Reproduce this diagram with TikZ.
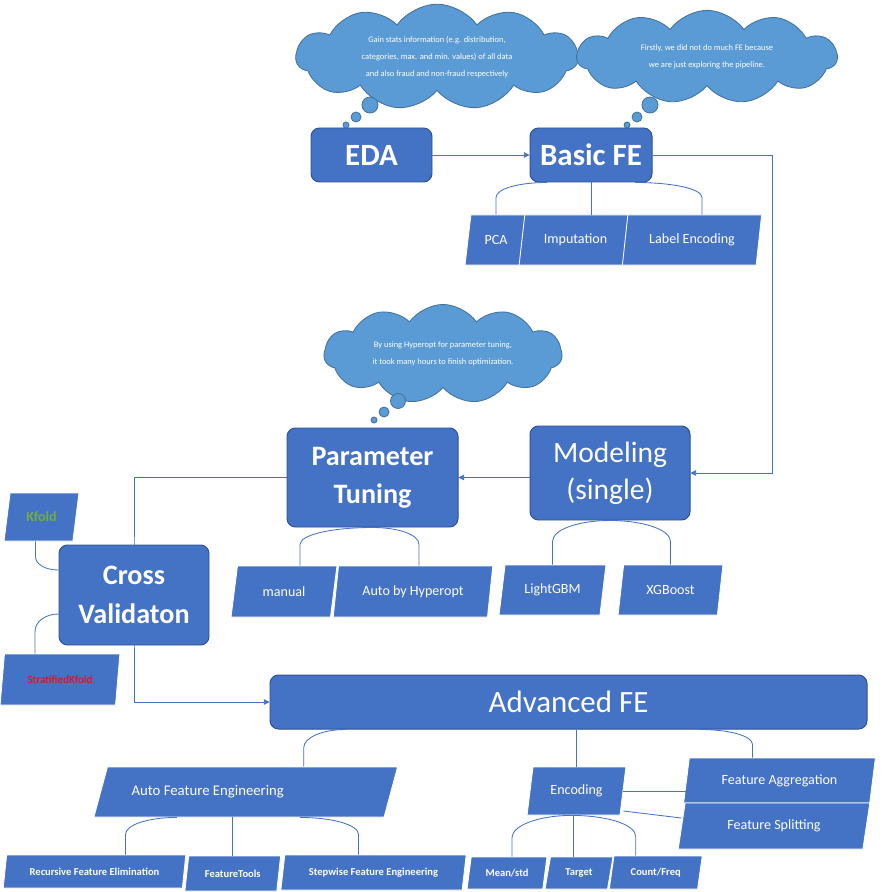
\documentclass[tikz,border=0pt]{standalone}
\usepackage{fontspec}
\setmainfont{Carlito}
\usetikzlibrary{positioning, arrows.meta, shapes.geometric, shapes.symbols}
\definecolor{boxblue}{HTML}{4472C4}
\definecolor{boxline}{HTML}{2F528F}
\definecolor{cloudblue}{HTML}{5B9BD5}
\definecolor{cloudline}{HTML}{41719C}
\definecolor{kgreen}{HTML}{70AD47}
\newdimen\pxu \pxu=0.025cm
\pgfdeclarelayer{background}
\pgfsetlayers{background,main}

\begin{document}
\begin{tikzpicture}[
  x=0.025cm, y=-0.025cm,
  >={Triangle[length=4pt, width=4pt]},
  block/.style={rectangle, rounded corners=6pt, draw=boxline, line width=0.7pt,
                fill=boxblue, text=white, align=center},
  para/.style={trapezium, trapezium left angle=76, trapezium right angle=104,
               trapezium stretches=true, fill=boxblue, draw=white, line width=0.6pt,
               text=white, inner sep=1pt, font=\fontsize{10}{12}\selectfont},
  small/.style={font=\fontsize{7.5}{9}\selectfont\bfseries},
  thought/.style={cloud, cloud puffs=11, cloud puff arc=110, aspect=3, fill=cloudblue, draw=cloudline,
                  line width=0.6pt, text=white, align=center, font=\fontsize{6}{12}\selectfont},
  puff/.style={circle, fill=cloudblue, draw=cloudline, line width=0.6pt, inner sep=0pt},
  link/.style={draw=boxblue, line width=0.6pt},
  big/.style={font=\fontsize{22}{27}\selectfont\bfseries}
]
\useasboundingbox (0,0) rectangle (886,892);

% main boxes
\node[block, big, minimum width=121\pxu, minimum height=54\pxu] (eda) at (371.5,155) {EDA};
\node[block, big, minimum width=122\pxu, minimum height=54\pxu] (bfe) at (591,155) {Basic FE};
\node[block, font=\fontsize{20}{27}\selectfont\bfseries, minimum width=171\pxu, minimum height=99\pxu] (pt) at (372.5,477.5) {Parameter\\Tuning};
\node[block, font=\fontsize{21}{26.5}\selectfont, minimum width=160\pxu, minimum height=94\pxu] (mod) at (610,473) {Modeling\\(single)};
\node[block, font=\fontsize{20}{27.5}\selectfont\bfseries, minimum width=150\pxu, minimum height=100\pxu] (cv) at (134,595) {Cross\\Validaton};
\node[block, font=\fontsize{22}{26}\selectfont, minimum width=597\pxu, minimum height=54\pxu] (afe) at (568.5,702) {Advanced FE};

% thought clouds
\node[thought, minimum width=282\pxu, minimum height=80\pxu] (gain) at (437,57)
  {Gain stats information (e.g. distribution,\\categories, max. and min. values) of all data\\and also fraud and non-fraud respectively};
\node[puff, minimum size=16\pxu] (gain1) at (370,105) {};
\node[puff, minimum size=10\pxu] (gain2) at (356,117) {};
\node[puff, minimum size=6\pxu]  (gain3) at (346,125) {};
\node[thought, minimum width=260\pxu, minimum height=80\pxu] (first) at (707,57)
  {Firstly, we did not do much FE because\\we are just exploring the pipeline.};
\node[puff, minimum size=16\pxu] (first1) at (650,105) {};
\node[puff, minimum size=10\pxu] (first2) at (637,117) {};
\node[puff, minimum size=6\pxu]  (first3) at (627,125) {};
\node[thought, minimum width=238\pxu, minimum height=74\pxu] (hours) at (443,354)
  {By using Hyperopt for parameter tuning,\\it took many hours to finish optimization.};
\node[puff, minimum size=15\pxu] (hours1) at (398,401) {};
\node[puff, minimum size=10\pxu] (hours2) at (384,412) {};
\node[puff, minimum size=6\pxu]  (hours3) at (374,420) {};

% basic FE children
\node[para, minimum width=62\pxu,  minimum height=50\pxu] (pca)  at (496,240)   {PCA};
\node[para, minimum width=113\pxu, minimum height=50\pxu] (imp)  at (575.5,240) {Imputation};
\node[para, minimum width=140\pxu, minimum height=50\pxu] (lenc) at (692,240)   {Label Encoding};

% tuning and model children
\node[para, minimum width=106\pxu, minimum height=51\pxu] (man)  at (284,591.5) {manual};
\node[para, minimum width=160\pxu, minimum height=51\pxu] (hyp)  at (413,591.5) {Auto by Hyperopt};
\node[para, minimum width=107\pxu, minimum height=50\pxu] (lgbm) at (552.5,590) {LightGBM};
\node[para, minimum width=105\pxu, minimum height=50\pxu] (xgb)  at (670.5,590) {XGBoost};

% cross validation children
\node[para, minimum width=75\pxu,  minimum height=48\pxu, text=kgreen, font=\fontsize{10}{12}\selectfont\bfseries] (kf) at (41.5,517) {Kfold};
\node[para, minimum width=120\pxu, minimum height=51\pxu, text=red, font=\fontsize{8}{10}\selectfont] (skf) at (60,679.5) {StratifiedKfold};

% advanced FE children
\node[para, minimum width=305\pxu, minimum height=50\pxu, font=\fontsize{10.5}{12}\selectfont] (autofe) at (245.75,792) {\hspace*{-76\pxu}Auto Feature Engineering};
\node[para, minimum width=99\pxu,  minimum height=48\pxu] (enc)  at (576.5,791) {Encoding};
\node[para, minimum width=193\pxu, minimum height=45\pxu] (fagg) at (779.5,780.5) {Feature Aggregation};
\node[para, minimum width=193\pxu, minimum height=46\pxu] (fspl) at (774,826) {Feature Splitting};

\node[para, small, minimum width=183\pxu, minimum height=33\pxu] (rfe)    at (94.5,871.5)  {Recursive Feature Elimination};
\node[para, small, minimum width=96\pxu,  minimum height=35\pxu] (ftools) at (232.75,873.5) {FeatureTools};
\node[para, small, minimum width=187\pxu, minimum height=35\pxu] (step)   at (373.5,872.5)  {Stepwise Feature Engineering};
\node[para, small, minimum width=80\pxu,  minimum height=32\pxu] (mstd)   at (507,873)      {Mean/std};
\node[para, small, minimum width=68\pxu,  minimum height=32\pxu] (tgt)    at (579,873)      {Target};
\node[para, small, minimum width=93\pxu,  minimum height=33\pxu] (cnt)    at (655.75,872.5) {Count/Freq};

% flow
\draw[link, ->] (eda) -- (bfe);
\draw[link, ->] (bfe.east) -| ([xshift=82\pxu]mod.east) -- (mod.east);
\draw[link, ->] (mod.west |- pt.east) -- (pt.east);
\begin{pgfonlayer}{background}
\draw[link, ->] (pt.west) -| (cv.center) |- (afe.west);
\end{pgfonlayer}

% tree connectors
\draw[link] (pca.north) -- ++(0,-17) .. controls +(0,-9) and +(-28,0) .. ([xshift=-44\pxu]bfe.south);
\draw[link] (bfe.south) -- (bfe.south |- imp.north);
\draw[link] ([xshift=10\pxu]lenc.north) -- ++(0,-17) .. controls +(0,-9) and +(37,0) .. ([xshift=44\pxu]bfe.south);

\draw[link] ([xshift=16\pxu]man.north) -- ++(0,-21) .. controls +(0,-10) and +(-40,0) .. (pt.south);
\draw[link] ([xshift=6\pxu]hyp.north) -- ++(0,-21) .. controls +(0,-10) and +(26,0) .. (pt.south);
\draw[link] (lgbm.north) -- ++(0,-23) .. controls +(0,-12) and +(-32,0) .. (mod.south);
\draw[link] (xgb.north) -- ++(0,-23) .. controls +(0,-12) and +(33,0) .. (mod.south);

\draw[link] ([xshift=-6\pxu]kf.south) -- ++(0,15) .. controls +(0,8) and +(-13,0) .. ([yshift=25\pxu]cv.west);
\draw[link] ([xshift=-25\pxu]skf.north) -- ++(0,-22) .. controls +(0,-10) and +(-13,0) .. ([yshift=-19\pxu]cv.west);

\draw[link] ([xshift=58\pxu]autofe.north) -- ++(0,-19) .. controls +(0,-10) and +(-23,0) .. ([xshift=-223\pxu]afe.south);
\draw[link] (enc.north |- afe.south) -- (enc.north);
\draw[link] ([xshift=-27\pxu]fagg.north) -- ++(0,-13) .. controls +(0,-9) and +(29,0) .. ([xshift=131\pxu]afe.south);

\draw[link] ([xshift=31\pxu]rfe.north) -- ++(0,-20) .. controls +(0,-10) and +(-28,0) .. ([xshift=-69\pxu]autofe.south);
\draw[link] (ftools.north |- autofe.south) -- (ftools.north);
\draw[link] ([xshift=-15\pxu]step.north) -- ++(0,-20) .. controls +(0,-10) and +(32,0) .. ([xshift=54\pxu]autofe.south);

\draw[link] ([xshift=5\pxu]mstd.north) -- ++(0,-19) .. controls +(0,-12) and +(-33,0) .. ([xshift=-5\pxu]enc.south);
\draw[link] ([xshift=-6\pxu]tgt.north) -- ([xshift=-6\pxu]tgt.north |- enc.south);
\draw[link] ([xshift=-20\pxu]cnt.north) -- ++(0,-19) .. controls +(0,-12) and +(36,0) .. ([xshift=-5\pxu]enc.south);

\draw[link] (enc.east) -- (enc.east -| fagg.west);
\draw[link] ([yshift=-20\pxu]enc.east) -- ([yshift=8\pxu]fspl.west);
\end{tikzpicture}
\end{document}
